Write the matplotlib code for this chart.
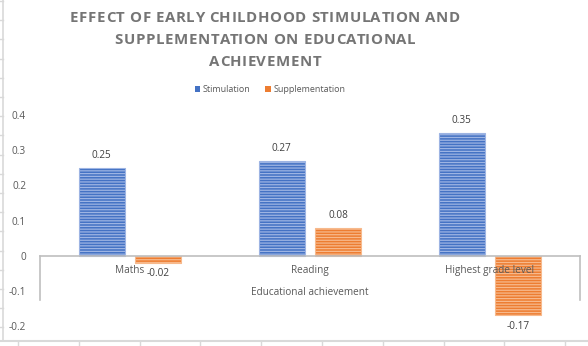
import matplotlib
matplotlib.use("Agg")
import matplotlib.pyplot as plt
from matplotlib.patches import Patch
from matplotlib.lines import Line2D
import numpy as np

categories = ["Maths", "Reading", "Highest grade level"]
stimulation = [0.25, 0.27, 0.35]
supplementation = [-0.02, 0.08, -0.17]
series_names = ["Stimulation", "Supplementation"]
yticks = [-0.2, -0.1, 0, 0.1, 0.2, 0.3, 0.4]
title_lines = ["EFFECT OF EARLY CHILDHOOD STIMULATION AND",
               "SUPPLEMENTATION ON EDUCATIONAL",
               "ACHIEVEMENT"]
axis_title = "Educational achievement"

plt.rcParams['font.family'] = ['Open Sans', 'DejaVu Sans']
plt.rcParams['hatch.linewidth'] = 0.9

W, H = 588, 346
fig = plt.figure(figsize=(W / 100, H / 100), dpi=100)
renderer = fig.canvas.get_renderer()

# axes area in pixel coordinates
left, right, top, bottom = 40, 580, 115, 326
ax = fig.add_axes([left / W, 1 - bottom / H, (right - left) / W, (bottom - top) / H])
ax.set_xlim(-0.5, 2.5)
ax.set_ylim(-0.2, 0.4)

x = np.arange(len(categories))
bw = 0.256
off = 0.158
blue, blue_l = "#4472C4", "#9db4e3"
orange, orange_l = "#ED7D31", "#f7b98c"

b1 = ax.bar(x - off, stimulation, bw, color=blue, edgecolor=blue_l, hatch='------', linewidth=0.8, zorder=2)
b2 = ax.bar(x + off, supplementation, bw, color=orange, edgecolor=orange_l, hatch='------', linewidth=0.8, zorder=2)

for bars, vals in ((b1, stimulation), (b2, supplementation)):
    for rect, v in zip(bars, vals):
        cx = rect.get_x() + rect.get_width() / 2
        if v >= 0:
            ax.annotate(f"{v:.2f}", (cx, v), xytext=(0, 5), textcoords='offset points',
                        ha='center', va='bottom', fontsize=7.2, color='#404040')
        else:
            ax.annotate(f"{v:.2f}", (cx, v), xytext=(0, -4), textcoords='offset points',
                        ha='center', va='top', fontsize=7.2, color='#404040')

for spine in ax.spines.values():
    spine.set_visible(False)
ax.set_xticks([])
ax.set_yticks(yticks)
ax.set_yticklabels([f"{t:g}" for t in yticks], fontsize=7.2, color='#595959')
ax.tick_params(axis='y', length=0, pad=10)

# category axis line at zero plus outer boxes
axis_c = '#bfbfbf'
ax.plot([-0.5, 2.5], [0, 0], color=axis_c, lw=1.2, zorder=3, clip_on=False)
ax.plot([-0.5, -0.5], [0, -0.126], color=axis_c, lw=1.2, clip_on=False)
ax.plot([2.5, 2.5], [0, -0.126], color=axis_c, lw=1.2, clip_on=False)

for i, c in enumerate(categories):
    ax.annotate(c, (i, 0), xytext=(0, -10.8), textcoords='offset points',
                ha='center', va='center', fontsize=7.2, color='#595959', zorder=5)
ax.annotate(axis_title, (1, 0), xytext=(0, -26.6), textcoords='offset points',
            ha='center', va='center', fontsize=7.2, color='#595959')

# letter-spaced title
title_kw = dict(fontsize=10.8, fontweight='bold', color='#757575', va='center', ha='left')


def text_width(s):
    t = fig.text(0, 0, s, **title_kw)
    w = t.get_window_extent(renderer).width
    t.remove()
    return w


target_w = 390.0
w0 = text_width(title_lines[0])
spacing = (target_w - w0) / (len(title_lines[0]) - 1)
title_cx = 265
for li, line in enumerate(title_lines):
    total = text_width(line) + spacing * (len(line) - 1)
    x0 = title_cx - total / 2
    y_px = 18 + 22 * li
    for k, ch in enumerate(line):
        if ch == ' ':
            continue
        xpos = x0 + (text_width(line[:k] + '|') - text_width('|') if k > 0 else 0) + spacing * k
        fig.text(xpos / W, 1 - y_px / H, ch, **title_kw)

handles = [Patch(facecolor=blue, edgecolor='none'), Patch(facecolor=orange, edgecolor='none')]
fig.legend(handles, series_names, loc='center', bbox_to_anchor=(270 / W, 1 - 90 / H),
           ncol=2, frameon=False, fontsize=6.5, handlelength=0.6, handleheight=0.6,
           handletextpad=0.3, columnspacing=1.6, labelcolor='#595959')

# spreadsheet background edges
gc = '#d9d9d9'
fig.add_artist(Line2D([3 / W, 3 / W], [1 - 341 / H, 1], transform=fig.transFigure, color=gc, lw=1.2))
fig.add_artist(Line2D([0, 1], [1 - 341 / H, 1 - 341 / H], transform=fig.transFigure, color=gc, lw=1.5))
for yy in np.arange(1, 341, 19.2):
    fig.add_artist(Line2D([0, 3 / W], [1 - yy / H, 1 - yy / H], transform=fig.transFigure, color=gc, lw=1))
for xx in np.arange(18, W, 60.8):
    fig.add_artist(Line2D([xx / W, xx / W], [0, 1 - 341 / H], transform=fig.transFigure, color=gc, lw=1))

fig.savefig("out.png", dpi=100, facecolor='white')
